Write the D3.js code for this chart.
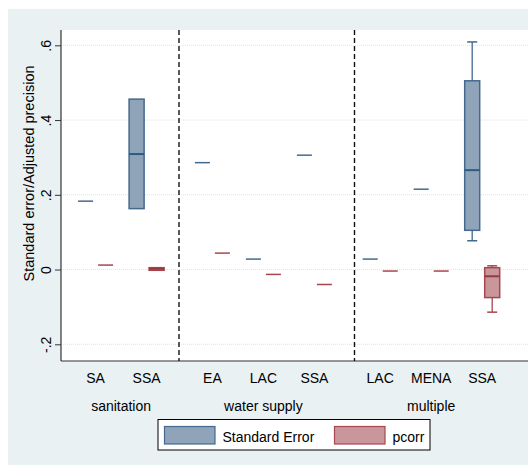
<!DOCTYPE html>
<html>
<head>
<meta charset="utf-8">
<script src="https://cdn.jsdelivr.net/npm/d3@7"></script>
<style>
  html, body { margin: 0; padding: 0; background: #ffffff; }
  svg { display: block; }
  text { font-family: "Liberation Sans", Arial, sans-serif; fill: #000; }
</style>
</head>
<body>
<svg id="chart" width="528" height="465"></svg>
<script>
// ---- data ----
const groups = ["sanitation", "water supply", "multiple"];
const categories = ["SA", "SSA", "EA", "LAC", "SSA", "LAC", "MENA", "SSA"];
const categoryGroup = [0, 0, 1, 1, 1, 2, 2, 2];

// Standard Error box stats
const seMin = [0.183, 0.163, 0.286, 0.028, 0.306, 0.028, 0.215, 0.077];
const seQ1  = [0.183, 0.163, 0.286, 0.028, 0.306, 0.028, 0.215, 0.105];
const seMed = [0.183, 0.309, 0.286, 0.028, 0.306, 0.028, 0.215, 0.266];
const seQ3  = [0.183, 0.456, 0.286, 0.028, 0.306, 0.028, 0.215, 0.505];
const seMax = [0.183, 0.456, 0.286, 0.028, 0.306, 0.028, 0.215, 0.609];

// pcorr box stats
const pcMin = [0.012, -0.002, 0.044, -0.013, -0.040, -0.004, -0.004, -0.114];
const pcQ1  = [0.012, -0.002, 0.044, -0.013, -0.040, -0.004, -0.004, -0.075];
const pcMed = [0.012,  0.002, 0.044, -0.013, -0.040, -0.004, -0.004, -0.018];
const pcQ3  = [0.012,  0.005, 0.044, -0.013, -0.040, -0.004, -0.004,  0.005];
const pcMax = [0.012,  0.005, 0.044, -0.013, -0.040, -0.004, -0.004,  0.010];

const yTicks = [-0.2, 0, 0.2, 0.4, 0.6];
const yTickLabels = ["-.2", "0", ".2", ".4", ".6"];
const seriesNames = ["Standard Error", "pcorr"];
const yTitle = "Standard error/Adjusted precision";

// ---- layout ----
const svg = d3.select("#chart");
const W = 528, H = 465;
const plot = { left: 61, top: 30, right: 540, bottom: 361 };
const groupGap = 0.29;
const slot = (i) => i + groupGap * categoryGroup[i];
const separatorSlots = [1.635, 5.076];

const x = d3.scaleLinear().domain([0, 7.58]).range([95.6, 482.2]);
const y = d3.scaleLinear().domain([-0.2, 0.6]).range([344.3, 45.3]);

const colors = {
  bg: "#e9f1f3",
  se: { fill: "#8fa4b9", stroke: "#43698e", med: "#2f5a82" },
  pc: { fill: "#c9979b", stroke: "#a7464e", med: "#963a42" }
};

// backgrounds
svg.append("rect").attr("x", 0).attr("y", 0).attr("width", W).attr("height", H).attr("fill", "#ffffff");
svg.append("rect").attr("x", 8).attr("y", 9).attr("width", W - 8).attr("height", H - 9).attr("fill", colors.bg);
svg.append("rect").attr("x", plot.left).attr("y", plot.top)
  .attr("width", plot.right - plot.left).attr("height", plot.bottom - plot.top).attr("fill", "#ffffff");

// gridlines
svg.append("g").selectAll("line").data(yTicks).join("line")
  .attr("x1", plot.left).attr("x2", plot.right)
  .attr("y1", d => y(d)).attr("y2", d => y(d))
  .attr("stroke", "#d9e6e9").attr("stroke-width", 1).attr("stroke-dasharray", "1,1");

// y axis
const yAxis = d3.axisLeft(y).tickValues(yTicks).tickSize(6)
  .tickFormat((d, i) => yTickLabels[i]);
const gy = svg.append("g").attr("transform", `translate(${plot.left},0)`).call(yAxis);
gy.select(".domain").remove();
gy.selectAll(".tick line").attr("stroke", "#333");
gy.selectAll(".tick text")
  .attr("x", 0).attr("dy", null).attr("y", 0)
  .attr("transform", "translate(-10,0) rotate(-90)")
  .attr("text-anchor", "middle")
  .style("font-size", "14px").style("font-family", "Liberation Sans, Arial, sans-serif")
  .attr("fill", "#000");
svg.append("line").attr("x1", plot.left).attr("x2", plot.left)
  .attr("y1", plot.top).attr("y2", plot.bottom).attr("stroke", "#333").attr("stroke-width", 1.2);
svg.append("line").attr("x1", plot.left).attr("x2", plot.right)
  .attr("y1", plot.bottom).attr("y2", plot.bottom).attr("stroke", "#333").attr("stroke-width", 1.2);

// y title
svg.append("text")
  .attr("transform", `translate(33.5,${(plot.top + plot.bottom) / 2 - 22}) rotate(-90)`)
  .attr("text-anchor", "middle").style("font-size", "14.5px").text(yTitle);

// separators
svg.append("g").selectAll("line").data(separatorSlots).join("line")
  .attr("x1", d => x(d)).attr("x2", d => x(d))
  .attr("y1", plot.top).attr("y2", plot.bottom)
  .attr("stroke", "#111").attr("stroke-width", 1.4).attr("stroke-dasharray", "5,3");

// category labels
svg.append("g").selectAll("text").data(categories).join("text")
  .attr("x", (d, i) => x(slot(i))).attr("y", 382.5)
  .attr("text-anchor", "middle").style("font-size", "14px").text(d => d);

// group labels
const groupCenters = groups.map((g, gi) => {
  const idx = categories.map((c, i) => i).filter(i => categoryGroup[i] === gi);
  return d3.mean(idx, i => x(slot(i)));
});
svg.append("g").selectAll("text").data(groups).join("text")
  .attr("x", (d, i) => groupCenters[i]).attr("y", 410.5)
  .attr("text-anchor", "middle").style("font-size", "14px").text(d => d);

// boxes
const boxW = 15, capW = 10, off = 10;
function drawSeries(mins, q1s, meds, q3s, maxs, col, dx) {
  const g = svg.append("g");
  categories.forEach((c, i) => {
    const cx = x(slot(i)) + dx;
    // whiskers
    if (maxs[i] > q3s[i]) {
      g.append("line").attr("x1", cx).attr("x2", cx).attr("y1", y(q3s[i])).attr("y2", y(maxs[i]))
        .attr("stroke", col.stroke).attr("stroke-width", 1.3);
      g.append("line").attr("x1", cx - capW / 2).attr("x2", cx + capW / 2).attr("y1", y(maxs[i])).attr("y2", y(maxs[i]))
        .attr("stroke", col.stroke).attr("stroke-width", 1.5);
    }
    if (mins[i] < q1s[i]) {
      g.append("line").attr("x1", cx).attr("x2", cx).attr("y1", y(q1s[i])).attr("y2", y(mins[i]))
        .attr("stroke", col.stroke).attr("stroke-width", 1.3);
      g.append("line").attr("x1", cx - capW / 2).attr("x2", cx + capW / 2).attr("y1", y(mins[i])).attr("y2", y(mins[i]))
        .attr("stroke", col.stroke).attr("stroke-width", 1.5);
    }
    const top = y(q3s[i]), bot = y(q1s[i]);
    if (bot - top > 0.5) {
      g.append("rect").attr("x", cx - boxW / 2).attr("y", top).attr("width", boxW).attr("height", bot - top)
        .attr("fill", col.fill).attr("stroke", col.stroke).attr("stroke-width", 1.5);
      g.append("line").attr("x1", cx - boxW / 2).attr("x2", cx + boxW / 2).attr("y1", y(meds[i])).attr("y2", y(meds[i]))
        .attr("stroke", col.med).attr("stroke-width", 2);
    } else {
      g.append("line").attr("x1", cx - boxW / 2).attr("x2", cx + boxW / 2).attr("y1", y(meds[i])).attr("y2", y(meds[i]))
        .attr("stroke", col.stroke).attr("stroke-width", 1.5);
    }
  });
}
drawSeries(seMin, seQ1, seMed, seQ3, seMax, colors.se, -off);
drawSeries(pcMin, pcQ1, pcMed, pcQ3, pcMax, colors.pc, off);

// legend
const lg = svg.append("g");
lg.append("rect").attr("x", 158).attr("y", 419.5).attr("width", 272).attr("height", 30.5)
  .attr("fill", "#fff").attr("stroke", "#000").attr("stroke-width", 1);
const legendItems = [
  { name: seriesNames[0], col: colors.se, sx: 164.5, tx: 222.5 },
  { name: seriesNames[1], col: colors.pc, sx: 334.5, tx: 392.5 }
];
legendItems.forEach(it => {
  lg.append("rect").attr("x", it.sx).attr("y", 426.5).attr("width", 50.5).attr("height", 17.5)
    .attr("fill", it.col.fill).attr("stroke", it.col.stroke).attr("stroke-width", 1.2);
  lg.append("text").attr("x", it.tx).attr("y", 441.5).style("font-size", "14px").text(it.name);
});
</script>
</body>
</html>
